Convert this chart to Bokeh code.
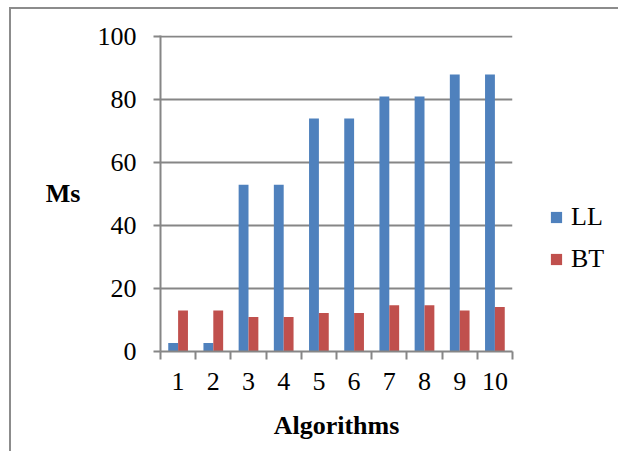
from bokeh.plotting import figure
from bokeh.models import ColumnDataSource, FixedTicker, Legend, LegendItem, Range1d
from bokeh.transform import dodge
from bokeh.embed import file_html
from bokeh.resources import INLINE

algorithms = [1, 2, 3, 4, 5, 6, 7, 8, 9, 10]
tick_labels = ["1", "2", "3", "4", "5", "6", "7", "8", "9", "10"]
ll = [2.7, 2.7, 53, 53, 74, 74, 81, 81, 88, 88]
bt = [13, 13, 11, 11, 12.2, 12.2, 14.7, 14.7, 13, 14.1]
y_ticks = [0, 20, 40, 60, 80, 100]

FONT = "Liberation Serif"
GREY = "#868686"

src = ColumnDataSource(dict(x=algorithms, ll=ll, bt=bt))

p = figure(frame_width=352, frame_height=316, output_backend="svg", toolbar_location=None,
           x_range=Range1d(0.5, 10.5), y_range=Range1d(0, 100.4),
           min_border_left=149, min_border_right=96, min_border_top=26, min_border_bottom=100)
p.margin = (7, 0, 0, 9)
p.styles = {"border-left": "2px solid #8c8c8c", "border-top": "2px solid #8c8c8c"}

r1 = p.vbar(x=dodge("x", -0.14, range=p.x_range), top="ll", width=0.28, source=src,
            fill_color="#4F81BD", line_color=None)
r2 = p.vbar(x=dodge("x", 0.14, range=p.x_range), top="bt", width=0.28, source=src,
            fill_color="#C0504D", line_color=None)

p.outline_line_color = None
p.background_fill_color = "white"
p.border_fill_color = "white"

p.xgrid.visible = False
p.ygrid.grid_line_color = GREY
p.ygrid.grid_line_width = 2
p.ygrid.ticker = FixedTicker(ticks=y_ticks)

xa = p.xaxis[0]
xa.ticker = FixedTicker(ticks=algorithms, minor_ticks=[a - 0.5 for a in algorithms] + [10.5])
xa.major_label_overrides = {a: t for a, t in zip(algorithms, tick_labels)}
xa.major_tick_out = 0
xa.major_tick_in = 0
xa.minor_tick_out = 8
xa.minor_tick_in = 0
xa.minor_tick_line_color = GREY
xa.minor_tick_line_width = 2
xa.axis_line_color = GREY
xa.axis_line_width = 2
xa.major_label_text_font = FONT
xa.major_label_text_font_size = "26px"
xa.major_label_text_color = "black"
xa.major_label_standoff = 13
xa.axis_label = "Algorithms"
xa.axis_label_text_font = FONT
xa.axis_label_text_font_size = "26px"
xa.axis_label_text_font_style = "bold"
xa.axis_label_text_color = "black"
xa.axis_label_standoff = 18

ya = p.yaxis[0]
ya.ticker = FixedTicker(ticks=y_ticks)
ya.major_tick_out = 7
ya.major_tick_in = 0
ya.minor_tick_line_color = None
ya.major_tick_line_color = GREY
ya.major_tick_line_width = 2
ya.axis_line_color = GREY
ya.axis_line_width = 2
ya.major_label_text_font = FONT
ya.major_label_text_font_size = "26px"
ya.major_label_text_color = "black"
ya.major_label_standoff = 17
ya.axis_label = "Ms"
ya.axis_label_orientation = "horizontal"
ya.axis_label_text_font = FONT
ya.axis_label_text_font_size = "26px"
ya.axis_label_text_font_style = "bold"
ya.axis_label_text_color = "black"
ya.axis_label_standoff = 14

legend = Legend(items=[LegendItem(label="LL", renderers=[r1]),
                       LegendItem(label="BT", renderers=[r2])],
                location=(37, 77), orientation="vertical")
legend.border_line_color = None
legend.background_fill_alpha = 0
legend.margin = 0
legend.padding = 0
legend.glyph_width = 14
legend.glyph_height = 14
legend.label_standoff = 8
legend.label_text_font = FONT
legend.label_text_font_size = "26px"
legend.label_text_color = "black"
legend.spacing = 12
p.add_layout(legend, "right")

open("out.html", "w").write(file_html(p, INLINE))
